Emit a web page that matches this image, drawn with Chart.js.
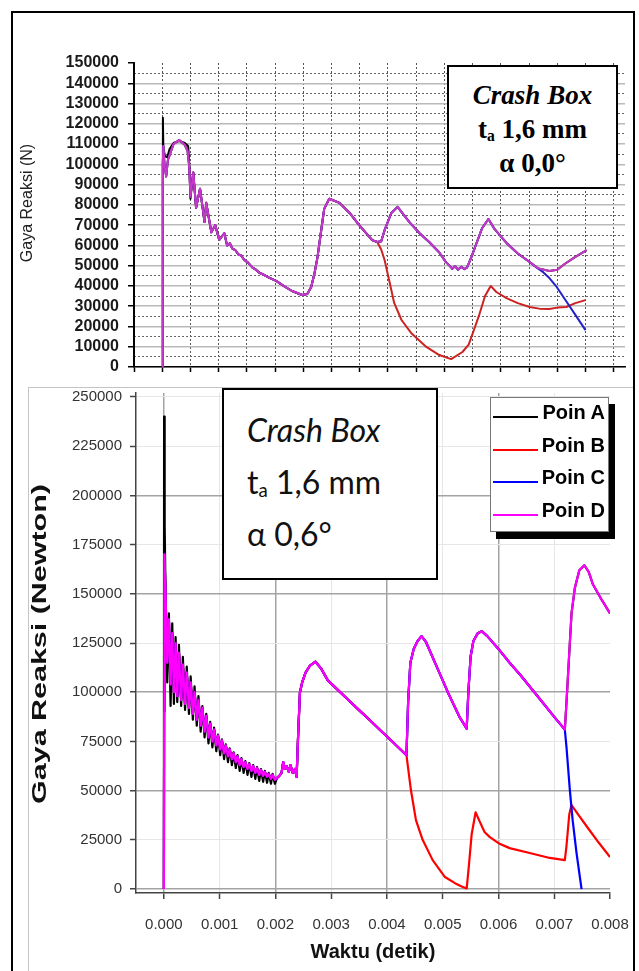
<!DOCTYPE html>
<html>
<head>
<meta charset="utf-8">
<script src="https://cdn.jsdelivr.net/npm/chart.js@4.4.0/dist/chart.umd.min.js"></script>
<style>
  body { margin: 0; width: 639px; height: 971px; background: #fff; position: relative; overflow: hidden; font-family: "Liberation Sans", Arial, sans-serif; }
  .frame { position: absolute; left: 11px; top: 11px; width: 624px; height: 990px; box-sizing: border-box; border: 2px solid #000; z-index: 10; }
  #topChart { position: absolute; left: 14px; top: 14px; z-index: 1; }
  .lower { position: absolute; left: 28px; top: 387px; width: 605px; height: 600px; background: #fff; border-top: 1px solid #c4c4c4; border-left: 1px solid #c4c4c4; z-index: 2; }
  #bottomChart { position: absolute; left: 29px; top: 373px; z-index: 3; }
  #noteTop { position: absolute; left: 447px; top: 65px; width: 171px; height: 124px; box-sizing: border-box; border: 2.5px solid #000; background: #fff; font: bold 27px "Liberation Serif", "Times New Roman", serif; text-align: center; padding-top: 11px; line-height: 34px; z-index: 5; color: #000; }
  #noteBottom { position: absolute; left: 222px; top: 388px; width: 216px; height: 192px; box-sizing: border-box; border: 2px solid #000; background: #fff; font: 32px Lato, "Open Sans", sans-serif; padding: 14px 0 0 23px; line-height: 52px; z-index: 5; color: #111; }
  sub { font-size: 0.58em; line-height: 0; vertical-align: -0.18em; }
  #legend { position: absolute; left: 490px; top: 397px; width: 119px; height: 135px; box-sizing: border-box; border: 1px solid #777; background: #fff; box-shadow: 6px 7px 0 #000; padding-top: 3px; z-index: 5; }
  #legend .row { height: 32.7px; position: relative; }
  #legend .swatch { position: absolute; left: 2px; top: 15px; width: 45px; height: 2px; }
  #legend .lbl { position: absolute; right: 3px; top: 0; line-height: 32.7px; font: bold 20px "Liberation Sans", Arial, sans-serif; color: #000; }
</style>
</head>
<body>
<div class="frame"></div>
<canvas id="topChart" width="618" height="373"></canvas>
<div class="lower"></div>
<canvas id="bottomChart" width="604" height="598"></canvas>
<div id="noteTop"><div><i>Crash Box</i></div><div>t<sub>a</sub> 1,6 mm</div><div>α 0,0°</div></div>
<div id="noteBottom"><div><i>Crash Box</i></div><div>t<sub>a</sub> 1,6 mm</div><div>α 0,6°</div></div>
<div id="legend"></div>
<script>
// ---------- upper panel (alpha 0,0) : [time s, force N] ----------
const topTimeTicks = [-0.0005, 0, 0.0005, 0.001, 0.0015, 0.002, 0.0025, 0.003, 0.0035, 0.004, 0.0045, 0.005, 0.0055, 0.006, 0.0065, 0.007, 0.0075, 0.008];
const topForceTicks = [0, 10000, 20000, 30000, 40000, 50000, 60000, 70000, 80000, 90000, 100000, 110000, 120000, 130000, 140000, 150000];
const topForceMinor = [5000, 15000, 25000, 35000, 45000, 55000, 65000, 75000, 85000, 95000, 105000, 115000, 125000, 135000, 145000];

const topPoinD = [
  [0, 0], [0.00001, 100000], [0.00002, 109000], [0.00004, 100000], [0.00007, 94000], [0.0001, 102000],
  [0.00015, 106000], [0.0002, 110000], [0.0003, 112000], [0.0004, 109500], [0.00045, 106500], [0.00048, 98500],
  [0.0005, 84000], [0.00055, 96000], [0.0006, 78500], [0.00067, 88000], [0.00075, 71500], [0.00078, 81000],
  [0.00087, 66500], [0.00094, 70000], [0.00101, 62700], [0.0011, 66000], [0.00115, 60000], [0.0012, 61000],
  [0.00124, 58500], [0.0013, 57500], [0.00135, 55500], [0.0014, 55000], [0.00145, 53000], [0.00152, 51500],
  [0.0016, 49000], [0.00166, 48000], [0.00172, 46500], [0.0018, 45500], [0.0019, 44000], [0.00202, 42500],
  [0.00215, 40000], [0.0023, 37500], [0.00248, 35500], [0.00257, 36000], [0.00264, 39500], [0.0027, 46500],
  [0.00275, 54000], [0.00281, 66000], [0.00287, 78000], [0.00296, 83000], [0.00314, 81000], [0.00332, 76000],
  [0.00349, 70000], [0.00372, 62600], [0.00381, 61700], [0.00388, 62000], [0.00394, 67500], [0.00406, 76000],
  [0.00417, 79000], [0.00438, 71500], [0.00456, 66000], [0.00473, 61700], [0.00491, 56500], [0.00502, 52000],
  [0.00509, 50000], [0.00514, 48500], [0.00519, 49800], [0.00524, 48000], [0.0053, 49500], [0.00535, 48300],
  [0.0054, 49000], [0.00548, 54300], [0.00557, 61200], [0.00567, 68600], [0.00578, 73000], [0.00589, 68000],
  [0.0061, 61200], [0.0063, 56000], [0.00651, 51800], [0.00665, 48800], [0.00686, 47400], [0.007, 48000],
  [0.00713, 50800], [0.0073, 54000], [0.00752, 57700]
];
// Poin A differs from D only in the first impact spike
const topPoinAStart = [
  [0, 0], [0.000012, 123000], [0.00002, 108000], [0.00005, 104000], [0.00009, 103500], [0.00013, 107500],
  [0.0002, 110500], [0.0003, 111500], [0.0004, 110500], [0.00046, 109000], [0.00048, 100000], [0.0005, 83000]
];
// Poin B leaves the common curve at ~0.00381 s
const topPoinBSplit = [
  [0.00388, 58000], [0.00394, 52800], [0.00402, 42900], [0.00411, 31600], [0.00424, 23200], [0.00441, 16800],
  [0.00468, 9900], [0.00491, 5900], [0.00512, 3900], [0.00532, 7400], [0.00543, 11000], [0.00552, 18000],
  [0.00562, 26000], [0.00572, 35000], [0.00582, 40000], [0.00592, 37000], [0.0061, 34000], [0.0063, 31500],
  [0.00651, 29600], [0.00668, 28800], [0.00686, 28600], [0.007, 29300], [0.00716, 29600], [0.00732, 31500],
  [0.0075, 33000]
];
// Poin C leaves the common curve at ~0.00665 s
const topPoinCSplit = [
  [0.00675, 46800], [0.00686, 43900], [0.00699, 39500], [0.00718, 31600], [0.00735, 24500], [0.0075, 18200]
];

// ---------- lower panel (alpha 0,6) ----------
const bottomTimeTicks = [0, 0.001, 0.002, 0.003, 0.004, 0.005, 0.006, 0.007, 0.008];
const bottomForceTicks = [0, 25000, 50000, 75000, 100000, 125000, 150000, 175000, 200000, 225000, 250000];

const bottomPoinD = [
  [0, 0], [0.000005, 90000], [0.00001, 170000], [0.00003, 150000], [0.00006, 115000], [0.00009, 137000],
  [0.00012, 104000], [0.00015, 130000], [0.00018, 100000], [0.00021, 125000], [0.00024, 98000], [0.00027, 120000],
  [0.00031, 96000], [0.00034, 114000], [0.00038, 94000], [0.00041, 110000], [0.00045, 92000], [0.00048, 105000],
  [0.00052, 89000], [0.00055, 100000], [0.00059, 86000], [0.00062, 96000], [0.00066, 83000], [0.00069, 92000],
  [0.00073, 80000], [0.00076, 88000], [0.0008, 77000], [0.00083, 84000], [0.00087, 75000], [0.0009, 81000],
  [0.00094, 73000], [0.00097, 78000], [0.00101, 71000], [0.00104, 75500], [0.00108, 69000], [0.00111, 73000],
  [0.00115, 67500], [0.00118, 71000], [0.00122, 66000], [0.00125, 69000], [0.00129, 64500], [0.00132, 67500],
  [0.00136, 63000], [0.00139, 66000], [0.00143, 62000], [0.00146, 64500], [0.0015, 61000], [0.00153, 63500],
  [0.00157, 60000], [0.0016, 62500], [0.00164, 59000], [0.00167, 61500], [0.00171, 58000], [0.00174, 60500],
  [0.00178, 57500], [0.00181, 59500], [0.00185, 57000], [0.00188, 58500], [0.00192, 56000], [0.00195, 58000],
  [0.00199, 55500], [0.00203, 56500], [0.00207, 57500], [0.00211, 59000], [0.00214, 64500], [0.00217, 61000],
  [0.0022, 62500], [0.00224, 59500], [0.00227, 63000], [0.00231, 59000], [0.00235, 61000], [0.00238, 57000],
  [0.00241, 80000], [0.00244, 100000], [0.00248, 105000], [0.00254, 110000], [0.00262, 113500], [0.00272, 115500],
  [0.00282, 112000], [0.00294, 106000], [0.0031, 101700], [0.0033, 96300], [0.0035, 90900], [0.0037, 85600],
  [0.0039, 80200], [0.0041, 74800], [0.00435, 68000], [0.00438, 95000], [0.00442, 115000], [0.00448, 122000],
  [0.00455, 126000], [0.00462, 128500], [0.0047, 125500], [0.0048, 119000], [0.0049, 112500], [0.005, 106000],
  [0.0051, 99500], [0.0052, 93500], [0.0053, 87500], [0.00543, 81500], [0.00546, 100000], [0.0055, 118000],
  [0.00555, 126000], [0.00563, 130000], [0.0057, 131000], [0.0058, 128500], [0.006, 122000], [0.0062, 115000],
  [0.0064, 108500], [0.0066, 101500], [0.0068, 94500], [0.007, 87500], [0.00719, 81000], [0.00722, 95000],
  [0.00726, 115000], [0.00731, 140000], [0.00737, 153000], [0.00745, 162000], [0.00754, 164500], [0.00762, 161000],
  [0.00769, 155000], [0.00785, 147000], [0.008, 140000]
];
const bottomPoinAStart = [
  [0, 0], [0.000004, 240000], [0.00001, 120000], [0.000018, 185000], [0.00003, 150000], [0.00006, 105000],
  [0.00009, 140000], [0.00012, 93000], [0.00015, 135000], [0.00018, 94000], [0.00021, 128000], [0.00024, 95000],
  [0.00027, 124000], [0.00031, 93000], [0.00034, 118000], [0.00038, 91000], [0.00041, 113000], [0.00045, 89000],
  [0.00048, 108000], [0.00052, 86000], [0.00055, 103000], [0.00059, 83000], [0.00062, 98000], [0.00066, 80000],
  [0.00069, 93000], [0.00073, 77000], [0.00076, 89000], [0.0008, 74000], [0.00083, 85000], [0.00087, 72000],
  [0.0009, 82000], [0.00094, 70000], [0.00097, 78500], [0.00101, 68000], [0.00104, 76000], [0.00108, 66000],
  [0.00111, 73500], [0.00115, 64500], [0.00118, 71500], [0.00122, 63000], [0.00125, 69500], [0.00129, 61500],
  [0.00132, 68000], [0.00136, 60000], [0.00139, 66500], [0.00143, 59000], [0.00146, 65000], [0.0015, 58000],
  [0.00153, 64000], [0.00157, 57000], [0.0016, 63000], [0.00164, 56000], [0.00167, 62000], [0.00171, 55000],
  [0.00174, 61000], [0.00178, 54500], [0.00181, 60000], [0.00185, 54000], [0.00188, 59000], [0.00192, 53500],
  [0.00195, 58500], [0.00199, 53500], [0.00203, 56500]
];
const bottomPoinBSplit = [
  [0.00443, 50300], [0.00452, 35000], [0.00464, 25000], [0.00482, 14700], [0.00504, 6100], [0.00522, 3000],
  [0.00535, 1200], [0.00543, 300], [0.00547, 12000], [0.00552, 28000], [0.00559, 39000], [0.00566, 34500],
  [0.00575, 29000], [0.00584, 26500], [0.00602, 23000], [0.0062, 20800], [0.00656, 18300], [0.00692, 15800],
  [0.00719, 14700], [0.00722, 22000], [0.00727, 38000], [0.00731, 42700], [0.00745, 37000], [0.00763, 30000],
  [0.0078, 23500], [0.008, 16300]
];
const bottomPoinCSplit = [
  [0.00722, 72000], [0.00728, 50300], [0.00733, 35000], [0.0074, 18300], [0.00749, 0]
];

const xy = arr => arr.map(p => ({ x: p[0], y: p[1] }));
const upTo = (arr, t) => arr.filter(p => p[0] <= t);
const after = (arr, t) => arr.filter(p => p[0] > t);

const topA = topPoinAStart.concat(after(topPoinD, 0.0005));
const topB = upTo(topPoinD, 0.00381).concat(topPoinBSplit);
const topC = upTo(topPoinD, 0.00665).concat(topPoinCSplit);
const bottomA = bottomPoinAStart.concat(after(bottomPoinD, 0.00203));
const bottomB = upTo(bottomPoinD, 0.00435).concat(bottomPoinBSplit);
const bottomC = upTo(bottomPoinD, 0.00719).concat(bottomPoinCSplit);

Chart.defaults.font.family = '"Liberation Sans", Arial, sans-serif';

// rotated axis title drawn by hand so it can sit where the original has it
const sideTitle = {
  id: 'sideTitle',
  afterDraw(chart, args, opts) {
    const ctx = chart.ctx;
    ctx.save();
    ctx.translate(opts.x, opts.y);
    ctx.rotate(-Math.PI / 2);
    ctx.scale(opts.stretch || 1, 1);
    ctx.font = opts.font;
    ctx.fillStyle = opts.color;
    ctx.textAlign = 'center';
    ctx.textBaseline = 'middle';
    ctx.fillText(opts.text, 0, 0);
    ctx.restore();
  }
};

const setTicks = list => s => { s.ticks = list.map(v => ({ value: v })); };
const plain = v => String(v);

new Chart(document.getElementById('topChart'), {
  type: 'line',
  data: {
    datasets: [
      { label: 'Poin A', data: xy(topA), borderColor: '#000000', order: 3 },
      { label: 'Poin B', data: xy(topB), borderColor: '#cc2222', order: 2 },
      { label: 'Poin C', data: xy(topC), borderColor: '#2222c8', order: 1 },
      { label: 'Poin D', data: xy(topPoinD), borderColor: '#c838c8', order: 0 }
    ]
  },
  options: {
    responsive: false,
    animation: false,
    layout: { padding: { top: 49, right: 7, bottom: 0, left: 0 } },
    elements: { line: { borderWidth: 2, tension: 0, borderJoinStyle: 'round' }, point: { radius: 0 } },
    plugins: {
      legend: { display: false },
      tooltip: { enabled: false },
      sideTitle: { text: 'Gaya Reaksi (N)', x: 14, y: 189, font: '16px "Liberation Sans", Arial', color: '#222' }
    },
    scales: {
      x: {
        type: 'linear', min: -0.0005, max: 0.0082,
        afterBuildTicks: setTicks(topTimeTicks),
        afterFit: s => { s.height = 20; },
        ticks: { display: false },
        grid: { color: '#555', lineWidth: 1, tickLength: 5, tickColor: '#000', tickWidth: 1.5 },
        border: { color: '#000', width: 1.5, dash: [2, 2] }
      },
      y: {
        position: 'left', min: 0, max: 150000,
        afterBuildTicks: setTicks(topForceTicks),
        afterFit: s => { s.width = 120; },
        ticks: { color: '#1a1a1a', font: { size: 16, weight: 'bold' }, padding: 9, autoSkip: false, callback: plain },
        grid: {
          color: c => (c.tick && c.tick.value === 150000) ? 'rgba(0,0,0,0)' : '#bababa',
          lineWidth: 1.5, tickLength: 6, tickColor: '#000', tickWidth: 1.5
        },
        border: { color: '#000', width: 2 }
      },
      y2: {
        position: 'left', min: 0, max: 150000,
        afterBuildTicks: setTicks(topForceMinor),
        afterFit: s => { s.width = 0; },
        ticks: { display: false },
        grid: { color: '#666', lineWidth: 1, drawTicks: false },
        border: { display: false, dash: [2, 2] }
      }
    }
  },
  plugins: [sideTitle]
});

const bottomChart = new Chart(document.getElementById('bottomChart'), {
  type: 'line',
  data: {
    datasets: [
      { label: 'Poin A', data: xy(bottomA), borderColor: '#000000', order: 3 },
      { label: 'Poin B', data: xy(bottomB), borderColor: '#ff0000', order: 2 },
      { label: 'Poin C', data: xy(bottomC), borderColor: '#0000ff', order: 1 },
      { label: 'Poin D', data: xy(bottomPoinD), borderColor: '#ff00ff', order: 0 }
    ]
  },
  options: {
    responsive: false,
    animation: false,
    layout: { padding: { top: 20, right: 23, bottom: 0, left: 0 } },
    elements: { line: { borderWidth: 2.2, tension: 0, borderJoinStyle: 'round' }, point: { radius: 0 } },
    plugins: {
      legend: { display: false },
      tooltip: { enabled: false },
      sideTitle: { text: 'Gaya Reaksi (Newton)', x: 11, y: 271, font: 'bold 21px "Liberation Sans", Arial', color: '#111', stretch: 1.45 }
    },
    scales: {
      x: {
        type: 'linear', min: -0.0005, max: 0.008,
        afterBuildTicks: setTicks(bottomTimeTicks),
        afterFit: s => { s.height = 78; s.paddingLeft = 0; s.paddingRight = 0; },
        ticks: { color: '#333', font: { size: 15 }, padding: 17, maxRotation: 0, autoSkip: false, callback: v => v.toFixed(3) },
        grid: {
          color: c => !c.tick ? '#a3a3a3' : (c.index === 8 ? 'rgba(0,0,0,0)' : (c.index % 2 === 0 ? '#a3a3a3' : '#e6e6e6')),
          lineWidth: c => (c.tick && c.index % 2 === 0) ? 1.5 : 1,
          tickLength: 6, tickColor: '#444', tickWidth: 1.5
        },
        border: { color: '#444', width: 1.5 },
        title: { display: true, text: 'Waktu (detik)', color: '#111', font: { size: 20, weight: 'bold' }, padding: { top: 4, bottom: 7 } }
      },
      y: {
        min: -2000, max: 252000,
        afterBuildTicks: setTicks(bottomForceTicks),
        afterFit: s => { s.width = 107; s.paddingTop = 0; s.paddingBottom = 0; },
        ticks: { color: '#333', font: { size: 15 }, padding: 8, autoSkip: false, callback: plain },
        grid: {
          color: c => !c.tick ? '#a3a3a3' : ((c.index % 2 === 0 && c.tick.value < 250000) ? '#a3a3a3' : '#e6e6e6'),
          lineWidth: c => (c.tick && c.index % 2 === 0 && c.tick.value < 250000) ? 1.5 : 1,
          tickLength: 6, tickColor: '#444', tickWidth: 1.5
        },
        border: { color: '#444', width: 1.5 }
      }
    }
  },
  plugins: [sideTitle]
});

// legend box built from the lower chart's datasets
const legendBox = document.getElementById('legend');
bottomChart.data.datasets.forEach(ds => {
  const row = document.createElement('div');
  row.className = 'row';
  row.innerHTML = '<span class="swatch" style="background:' + ds.borderColor + '"></span><span class="lbl">' + ds.label + '</span>';
  legendBox.appendChild(row);
});
</script>
</body>
</html>
